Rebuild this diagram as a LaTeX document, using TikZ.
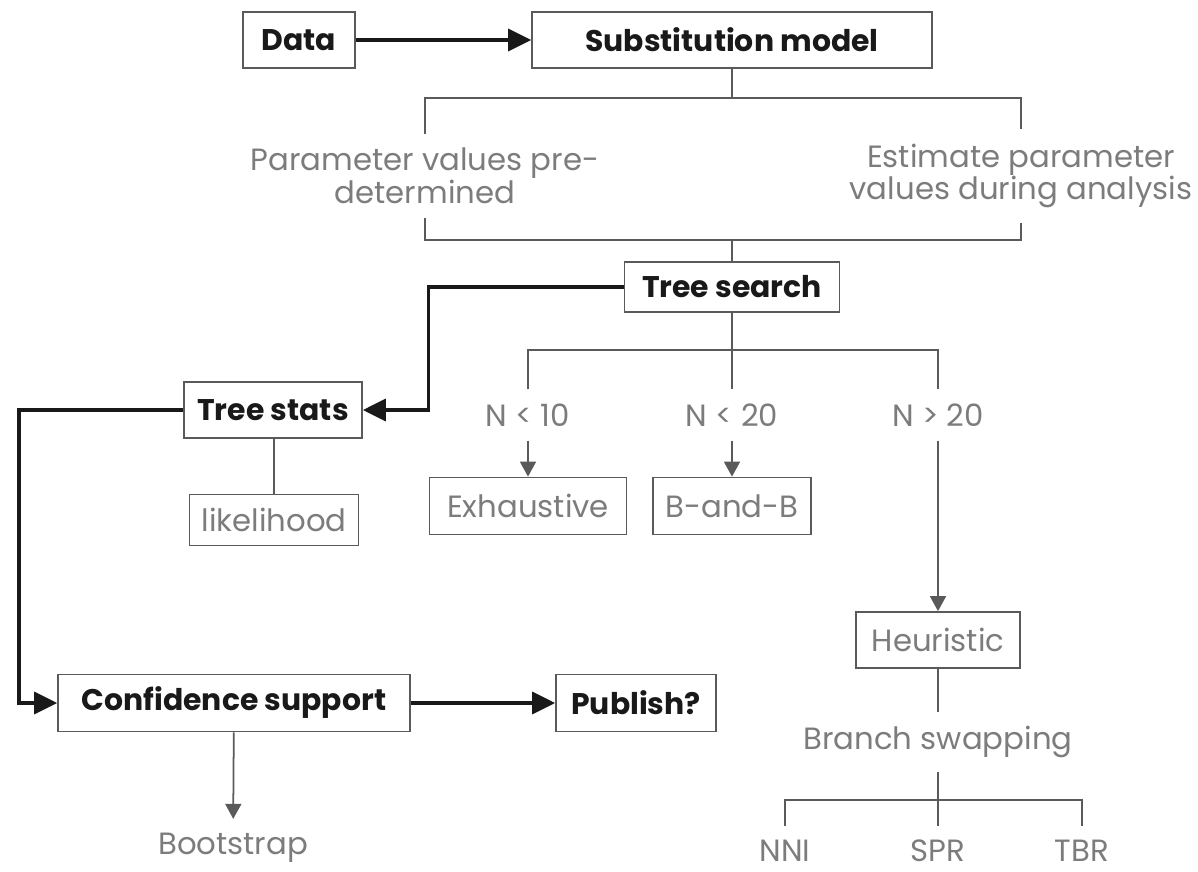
\documentclass[tikz,border=0pt]{standalone}
\usepackage{fontspec}
\setmainfont{Poppins}
\usepackage{xcolor}
\usepackage{tikz}
\usetikzlibrary{arrows.meta,positioning,calc}

\definecolor{linegray}{HTML}{5A5A5A}
\definecolor{textgray}{HTML}{7C7C7C}

\begin{document}
\begin{tikzpicture}[x=0.02cm,y=-0.02cm,
mainbox/.style={rectangle, draw=linegray, line width=1pt, inner sep=0pt, text=black!90, font=\fontsize{17}{19}\selectfont\bfseries},
subbox/.style={rectangle, draw=linegray, line width=1pt, inner sep=0pt, text=textgray, font=\fontsize{17.5}{19}\selectfont},
choice/.style={inner xsep=0pt, inner ysep=8pt, text=textgray, align=center, font=\fontsize{17.5}{18.5}\selectfont},
bigarrow/.style={-{Triangle[length=0.46cm, width=0.44cm]}, line width=2pt, black!90},
thinline/.style={draw=linegray, line width=1pt},
thinarrow/.style={thinline, -{Triangle[length=0.3cm, width=0.32cm]}}
]
\useasboundingbox (0,0) rectangle (1198,872);

% Input and model
\node[mainbox, minimum width=2.24cm, minimum height=1.12cm] (data) at (299,40) {Data};
\node[mainbox, minimum width=8cm, minimum height=1.12cm] (subst) at (732,40) {Substitution model};
\draw[bigarrow] (data) -- (subst);

% Parameter choice
\node[choice] (fixed) at (425,176) {Parameter values pre-\\determined};
\node[choice] (estim) at (1021,176) {Estimate parameter\\values during analysis};
\draw[thinline] (subst.south) -- ++(0,29) coordinate (split1);
\draw[thinline] (fixed) |- (split1) -| (estim);
\coordinate (join1) at (732,240);
\draw[thinline] (fixed) |- (join1) -| (estim);

% Tree search
\node[mainbox, minimum width=4.3cm, minimum height=1cm] (search) at (732,287) {Tree search};
\draw[thinline] (join1) -- (search);

% Tree stats
\node[mainbox, minimum width=3.56cm, minimum height=1.12cm] (stats) at (273,410) {Tree stats};
\node[subbox, minimum width=3.38cm, minimum height=1.02cm] (lik) at (274,520) {likelihood};
\draw[bigarrow] (search.west) -- ++(-195,0) |- (stats.east);
\draw[thinline] (stats.south -| lik.north) -- (lik.north);

% Search strategy by N
\draw[thinline] (search.south) -- ++(0,37) coordinate (split2);
\node[choice] (n10) at (528,415) {N < 10};
\node[choice] (n20) at (732,415) {N < 20};
\node[choice] (n30) at (938,415) {N > 20};
\draw[thinline] (n10) |- (split2) -| (n30);
\draw[thinline] (split2) -- (n20);

\node[subbox, minimum width=3.94cm, minimum height=1.14cm] (exh) at (528,506) {Exhaustive};
\node[subbox, minimum width=3.16cm, minimum height=1.14cm] (bnb) at (732,506) {B-and-B};
\node[subbox, minimum width=3.28cm, minimum height=1.12cm] (heur) at (938,640) {Heuristic};
\draw[thinarrow] (n10) -- (exh);
\draw[thinarrow] (n20) -- (bnb);
\draw[thinarrow] (n30) -- (heur);

% Branch swapping
\node[choice] (swap) at (938,742) {Branch swapping};
\draw[thinline] (heur) -- (swap);
\coordinate (split3) at (938,800);
\draw[thinline] (swap) -- (split3);
\node[choice] (nni) at (785,851) {NNI};
\node[choice] (spr) at (938,851) {SPR};
\node[choice] (tbr) at (1082,851) {TBR};
\draw[thinline] (nni) |- (split3) -| (tbr);
\draw[thinline] (split3) -- (spr);

% Support and publishing
\node[mainbox, minimum width=7.04cm, minimum height=1.14cm] (conf) at (234,703) {Confidence support};
\node[mainbox, minimum width=3.2cm, minimum height=1.14cm] (pub) at (636,703) {Publish?};
\draw[bigarrow] (stats.west) -- ++(-164,0) |- (conf.west);
\draw[bigarrow] (conf) -- (pub);
\node[choice] (boot) at (233,848) {Bootstrap};
\draw[thinarrow] (conf) -- (boot);

\end{tikzpicture}
\end{document}
